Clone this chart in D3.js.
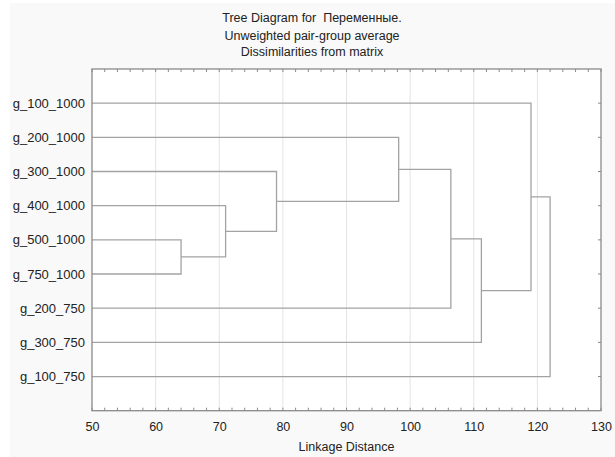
<!DOCTYPE html>
<html>
<head>
<meta charset="utf-8">
<script src="https://cdn.jsdelivr.net/npm/d3@7"></script>
<style>
  body { margin: 0; background: #fff; }
  text { font-family: "Liberation Sans", Arial, sans-serif; fill: #222; white-space: pre; }
</style>
</head>
<body>
<svg width="615" height="457" id="mainsvg"></svg>
<script>
    // leaves in display order, top to bottom
    let leaves = ["g_100_1000", "g_200_1000", "g_300_1000", "g_400_1000", "g_500_1000",
                  "g_750_1000", "g_200_750", "g_300_750", "g_100_750"];
    // joins: [first, second, linkage distance]; "n0".."n7" are earlier joins
    let joins = [
        ["g_500_1000", "g_750_1000", 64.0],
        ["g_400_1000", "n0", 71.0],
        ["g_300_1000", "n1", 79.0],
        ["g_200_1000", "n2", 98.2],
        ["n3", "g_200_750", 106.4],
        ["n4", "g_300_750", 111.2],
        ["g_100_1000", "n5", 119.0],
        ["n6", "g_100_750", 122.0]
    ];
    let xTicks = [50, 60, 70, 80, 90, 100, 110, 120, 130];
    let titleLines = ["Tree Diagram for  Переменные.", "Unweighted pair-group average", "Dissimilarities from matrix"];

    let svg = d3.select('#mainsvg');
    let pl = 92, pr = 601, pt = 69, pb = 410.7;

    svg.append('rect').attr('x', 10).attr('y', 3).attr('width', 605).attr('height', 454)
        .attr('fill', '#f9f9f9');
    svg.append('rect').attr('x', pl).attr('y', pt).attr('width', pr - pl).attr('height', pb - pt)
        .attr('fill', '#fff');

    let x = d3.scaleLinear().domain([50, 130]).range([pl, pr]);
    let y = d3.scaleLinear().domain([0, leaves.length + 1]).range([pt, pb]);

    // grid
    svg.append('g').selectAll('line').data(xTicks.slice(1, -1)).join('line')
        .attr('x1', d => x(d)).attr('x2', d => x(d))
        .attr('y1', pt).attr('y2', pb)
        .attr('stroke', '#e4e4e4').attr('stroke-width', 1);

    // node positions
    let pos = {};
    leaves.forEach((name, i) => { pos[name] = {y: y(i + 1), h: 50}; });
    joins.forEach((j, i) => {
        let a = pos[j[0]], b = pos[j[1]];
        pos['n' + i] = {y: (a.y + b.y) / 2, h: j[2]};
    });

    let tree = svg.append('g').attr('fill', 'none').attr('stroke', '#a3a3a3').attr('stroke-width', 1.3);
    joins.forEach(j => {
        let a = pos[j[0]], b = pos[j[1]];
        tree.append('path')
            .attr('d', `M${x(a.h)},${a.y}H${x(j[2])}V${b.y}H${x(b.h)}`);
    });

    // frame
    svg.append('rect').attr('x', pl).attr('y', pt).attr('width', pr - pl).attr('height', pb - pt)
        .attr('fill', 'none').attr('stroke', '#8a8a8a').attr('stroke-width', 1.3);

    // bottom axis labels, inward minor ticks on top and bottom
    let bottomAxis = d3.axisBottom(x).tickValues(xTicks).tickSize(0).tickPadding(11);
    let gb = svg.append('g').attr('transform', `translate(0,${pb})`).call(bottomAxis);
    gb.select('.domain').remove();
    gb.selectAll('text').style('font-size', '12.5px').attr('fill', '#222')
        .style('font-family', '"Liberation Sans", Arial, sans-serif');

    let minor = d3.range(50, 131, 2);
    svg.append('g').selectAll('line').data(minor).join('line')
        .attr('x1', d => x(d)).attr('x2', d => x(d))
        .attr('y1', pb).attr('y2', pb - 3)
        .attr('stroke', '#8a8a8a');
    svg.append('g').selectAll('line').data(minor).join('line')
        .attr('x1', d => x(d)).attr('x2', d => x(d))
        .attr('y1', pt).attr('y2', pt + 3)
        .attr('stroke', '#8a8a8a');

    // right ticks
    svg.append('g').selectAll('line').data(leaves).join('line')
        .attr('x1', pr).attr('x2', pr - 3)
        .attr('y1', (d, i) => y(i + 1)).attr('y2', (d, i) => y(i + 1))
        .attr('stroke', '#8a8a8a');

    // leaf labels
    svg.append('g').selectAll('text').data(leaves).join('text')
        .attr('x', pl - 7).attr('y', (d, i) => y(i + 1))
        .attr('dy', '0.35em').attr('text-anchor', 'end')
        .style('font-size', '13px')
        .text(d => d);

    // titles
    svg.append('g').selectAll('text').data(titleLines).join('text')
        .attr('x', 312).attr('y', (d, i) => [22, 40, 56][i])
        .attr('text-anchor', 'middle').style('font-size', '12.5px')
        .text(d => d);

    svg.append('text').attr('x', (pl + pr) / 2).attr('y', 451)
        .attr('text-anchor', 'middle').style('font-size', '12.5px')
        .text('Linkage Distance');
</script>
</body>
</html>
